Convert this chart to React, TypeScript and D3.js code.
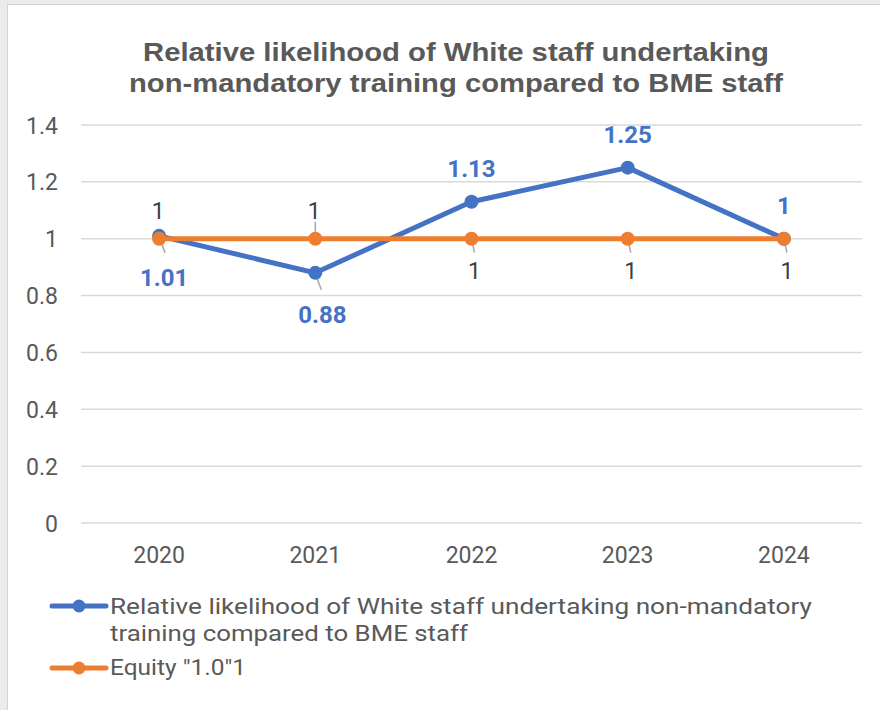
import React from "react";
import * as d3 from "d3";

const years = ["2020", "2021", "2022", "2023", "2024"];
const likelihood = [1.01, 0.88, 1.13, 1.25, 1.0];
const likelihoodLabels = ["1.01", "0.88", "1.13", "1.25", "1"];
const equity = [1, 1, 1, 1, 1];
const equityLabels = ["1", "1", "1", "1", "1"];
const yTicks = [0, 0.2, 0.4, 0.6, 0.8, 1, 1.2, 1.4];
const titleLines = [
  "Relative likelihood of White staff undertaking",
  "non-mandatory training compared to BME staff",
];
const legendBlueLines = [
  "Relative likelihood of White staff undertaking non-mandatory",
  "training compared to BME staff",
];
const legendOrange = 'Equity "1.0"1';

// label placement
const bluePos = ["below", "below", "above", "above", "above"];
const orangePos = ["above", "above", "below", "below", "below"];

const BLUE = "#4472C4";
const ORANGE = "#ED7D31";
const GRID = "#d9d9d9";
const TXT = "#595959";
const LEADER = "#a6a6a6";
const FONT = "Roboto, 'Noto Sans', sans-serif";
const TITLE_FONT = "'Liberation Sans', Arial, sans-serif";

export default function App() {
  const W = 880, H = 710;
  const x = d3.scaleBand<string>().domain(years).range([81, 862]);
  const y = d3.scaleLinear().domain([0, 1.4]).range([523, 125]);
  const cx = (d: string) => (x(d) as number) + x.bandwidth() / 2;
  const line = d3.line<number>().x((_, i) => cx(years[i])).y((v) => y(v));

  const blueOff: Record<string, [number, number]> = {
    below: [5, 50],
    above: [0, -25],
  };

  return (
    <svg width={W} height={H} style={{ position: "absolute", left: 0, top: 0 }}>
      <rect x={0} y={0} width={W} height={H} fill="#ebebeb" />
      <rect x={7.5} y={4.5} width={W} height={H} fill="#ffffff" stroke="#d4d4d4" strokeWidth={1} />
      {titleLines.map((t, i) => (
        <text key={i} x={456} y={61 + i * 31} textAnchor="middle" fontFamily={TITLE_FONT} fontWeight="bold" fontSize={26} fill={TXT}
          textLength={i === 0 ? 626 : 654} lengthAdjust="spacingAndGlyphs">{t}</text>
      ))}
      {yTicks.map((t) => (
        <g key={t}>
          <line x1={81} x2={862} y1={y(t)} y2={y(t)} stroke={GRID} strokeWidth={1.5} />
          <text x={58} y={y(t) + 8.5} textAnchor="end" fontFamily={FONT} fontSize={23} fill={TXT}>{String(t)}</text>
        </g>
      ))}
      {years.map((yr) => (
        <text key={yr} x={cx(yr)} y={563} textAnchor="middle" fontFamily={FONT} fontSize={23} fill={TXT}>{yr}</text>
      ))}
      {/* leader lines */}
      {years.map((yr, i) => {
        const px = cx(yr);
        const items = [] as any[];
        if (bluePos[i] === "below") {
          const py = y(likelihood[i]);
          items.push(<line key={"bl" + i} x1={px} y1={py + 1} x2={px + 6} y2={py + 17} stroke={LEADER} strokeWidth={1.5} />);
        }
        if (orangePos[i] === "below") {
          const py = y(equity[i]);
          items.push(<line key={"ol" + i} x1={px} y1={py} x2={px + 3} y2={py + 14} stroke={LEADER} strokeWidth={1.5} />);
        }
        if (orangePos[i] === "above" && i === 1) {
          const py = y(equity[i]);
          items.push(<line key={"oa" + i} x1={px} y1={py - 17} x2={px} y2={py - 3} stroke={LEADER} strokeWidth={1.5} />);
        }
        return <g key={yr}>{items}</g>;
      })}
      <path d={line(likelihood) || ""} fill="none" stroke={BLUE} strokeWidth={5} strokeLinejoin="round" />
      {likelihood.map((v, i) => (
        <circle key={i} cx={cx(years[i])} cy={y(v)} r={7} fill={BLUE} />
      ))}
      <path d={line(equity) || ""} fill="none" stroke={ORANGE} strokeWidth={5} strokeLinejoin="round" />
      {equity.map((v, i) => (
        <circle key={i} cx={cx(years[i])} cy={y(v)} r={7} fill={ORANGE} />
      ))}
      {/* blue labels */}
      {likelihood.map((v, i) => {
        const px = cx(years[i]);
        const [dx, dy] = blueOff[bluePos[i]];
        const extraDx = i === 1 ? 2 : 0;
        return (
          <text key={i} x={px + dx + extraDx} y={y(v) + dy} textAnchor="middle" fontFamily={FONT} fontWeight="bold" fontSize={24} fill={BLUE}>{likelihoodLabels[i]}</text>
        );
      })}
      {/* orange labels */}
      {equity.map((v, i) => {
        const px = cx(years[i]);
        const below = orangePos[i] === "below";
        const yy = below ? y(v) + 40 : y(v) - 20;
        const dx = below ? 3 : -1;
        return (
          <text key={i} x={px + dx} y={yy} textAnchor="middle" fontFamily={FONT} fontSize={23} fill="#404040">{equityLabels[i]}</text>
        );
      })}
      {/* legend */}
      <line x1={52} x2={106} y1={606} y2={606} stroke={BLUE} strokeWidth={5} strokeLinecap="round" />
      <circle cx={79} cy={606} r={6.5} fill={BLUE} />
      <text x={110} y={614} fontFamily={FONT} fontSize={22} fill={TXT} textLength={702} lengthAdjust="spacingAndGlyphs">{legendBlueLines[0]}</text>
      <text x={110} y={641} fontFamily={FONT} fontSize={22} fill={TXT} textLength={358} lengthAdjust="spacingAndGlyphs">{legendBlueLines[1]}</text>
      <line x1={52} x2={106} y1={668} y2={668} stroke={ORANGE} strokeWidth={5} strokeLinecap="round" />
      <circle cx={79} cy={668} r={6.5} fill={ORANGE} />
      <text x={110} y={675} fontFamily={FONT} fontSize={22} fill={TXT} textLength={136} lengthAdjust="spacingAndGlyphs">{legendOrange}</text>
    </svg>
  );
}
